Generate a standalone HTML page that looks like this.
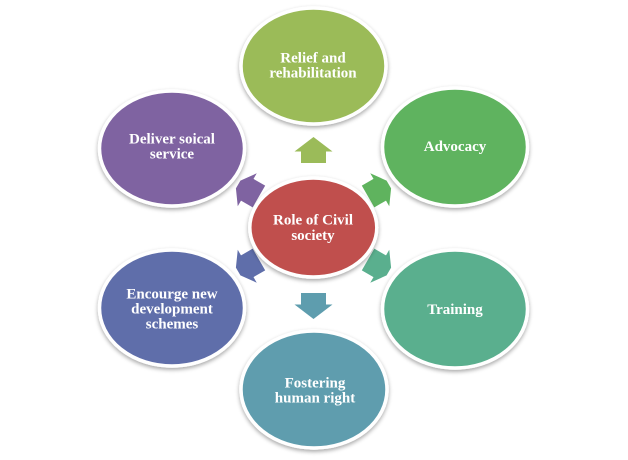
<!DOCTYPE html>
<html>
<head>
<meta charset="utf-8">
<style>
  html,body{margin:0;padding:0;background:#ffffff;}
  svg{display:block;}
  text{font-family:"Liberation Serif","DejaVu Serif",serif;font-weight:bold;font-size:15px;fill:#ffffff;text-anchor:middle;}
</style>
</head>
<body>
<svg width="628" height="460" viewBox="0 0 628 460" xmlns="http://www.w3.org/2000/svg">
  <defs>
    <filter id="sh" x="-20%" y="-20%" width="140%" height="150%">
      <feGaussianBlur in="SourceAlpha" stdDeviation="2"/>
      <feOffset dx="0" dy="2" result="b"/>
      <feComponentTransfer><feFuncA type="linear" slope="0.35"/></feComponentTransfer>
      <feMerge><feMergeNode/><feMergeNode in="SourceGraphic"/></feMerge>
    </filter>
    <polygon id="arr" points="65,-12.5 76.5,-12.5 76.5,-19 91,0 76.5,19 76.5,12.5 65,12.5"/>
    <polygon id="arrd" points="63,-12.5 76.5,-12.5 76.5,-19 87,-4.5 87,4.5 76.5,19 76.5,12.5 63,12.5"/>
  </defs>

  <!-- arrows -->
  <g transform="translate(313.5,228)">
    <use href="#arr" transform="rotate(-90)" fill="#9BBB59"/>
    <use href="#arrd" transform="rotate(-30)" fill="#5FB35E"/>
    <use href="#arrd" transform="rotate(30)" fill="#5AAF8E"/>
    <use href="#arr" transform="rotate(90)" fill="#5E9DAE"/>
    <use href="#arrd" transform="rotate(150)" fill="#5F6EAA"/>
    <use href="#arrd" transform="rotate(-150)" fill="#7F63A1"/>
  </g>

  <!-- outer ellipses -->
  <g stroke="#ffffff" stroke-width="3.5" filter="url(#sh)">
    <ellipse cx="313.5" cy="66" rx="72.5" ry="58" fill="#9BBB59"/>
    <ellipse cx="455" cy="147" rx="72.5" ry="59" fill="#5FB35E"/>
    <ellipse cx="455" cy="309" rx="72.5" ry="59" fill="#5AAF8E"/>
    <ellipse cx="314" cy="389.5" rx="73" ry="58.5" fill="#5E9DAE"/>
    <ellipse cx="172" cy="308" rx="72.5" ry="58" fill="#5F6EAA"/>
    <ellipse cx="172" cy="148.5" rx="72.5" ry="57.5" fill="#7F63A1"/>
    <ellipse cx="313.3" cy="227.5" rx="63.5" ry="49.5" fill="#C0504D"/>
  </g>

  <!-- labels -->
  <text x="313" y="62.3">Relief and</text>
  <text x="313" y="77.3">rehabilitation</text>

  <text x="455" y="151">Advocacy</text>

  <text x="455" y="314">Training</text>

  <text x="315" y="387.3">Fostering</text>
  <text x="315" y="402.3">human right</text>

  <text x="172" y="298.3">Encourge new</text>
  <text x="172" y="313.3">development</text>
  <text x="172" y="328.3">schemes</text>

  <text x="172" y="143.3">Deliver soical</text>
  <text x="172" y="158.3">service</text>

  <text x="313" y="224.3">Role of Civil</text>
  <text x="313" y="240">society</text>
</svg>
</body>
</html>
